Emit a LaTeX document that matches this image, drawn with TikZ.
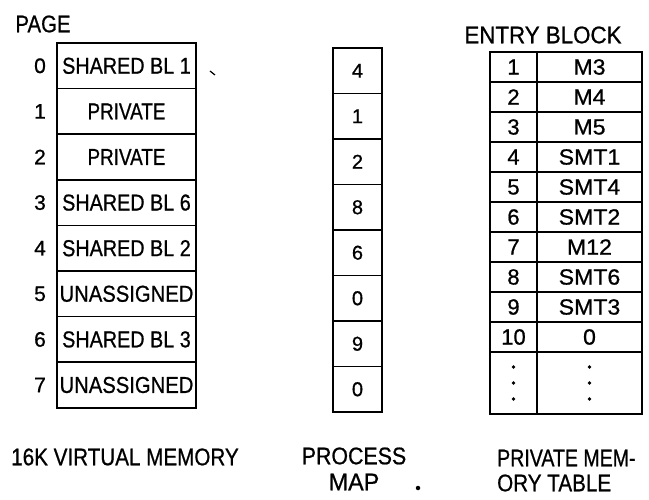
\documentclass[tikz,border=0pt]{standalone}
\usepackage{graphicx}
\usepackage{fontspec}
\setmainfont{Liberation Sans}[FakeBold=0.8]
\newcommand{\sx}[2]{\scalebox{#1}[1]{#2}}
\tikzset{
  x=1pt, y=-1pt,
  box/.style={draw, line width=1.6pt, inner sep=0pt, outer sep=0pt},
  lcell/.style={box, minimum width=139pt, minimum height=45.6pt, font=\fontsize{23}{23}\selectfont},
  pnum/.style={inner sep=0pt, font=\fontsize{21}{21}\selectfont},
  pcell/.style={box, minimum width=49pt, minimum height=45.5pt, font=\fontsize{20}{20}\selectfont},
  ecell/.style={box, minimum width=47pt, minimum height=30pt, font=\fontsize{22}{22}\selectfont},
  mcell/.style={box, minimum width=105pt, minimum height=30pt, font=\fontsize{22}{22}\selectfont},
  lbl/.style={inner sep=0pt, font=\fontsize{24}{24}\selectfont},
  dotmark/.style={circle, fill, inner sep=0pt, minimum size=3.6pt}
}
\begin{document}
\begin{tikzpicture}
\useasboundingbox (0,0) rectangle (649,500);
% --- 16K virtual memory ---
\node[lbl] (page) at (43,24) {\sx{0.85}{PAGE}};
\foreach \s/\t [count=\i from 0] in {0.86/SHARED BL 1, 0.82/PRIVATE, 0.82/PRIVATE, 0.86/SHARED BL 6, 0.86/SHARED BL 2, 0.88/UNASSIGNED, 0.86/SHARED BL 3, 0.88/UNASSIGNED}{
  \node[lcell] (v\i) at (126.5,{43+45.6*(\i+0.5)}) {\sx{\s}{\t}};
  \node[pnum] (n\i) at (40,{43+45.6*(\i+0.5)}) {\i};
}
\coordinate (tickA) at (210,71);
\coordinate (tickB) at (215,75);
\draw[line width=1.2pt] (tickA) -- (tickB);
\node[lbl] (vmlabel) at (125,457) {\sx{0.86}{16K VIRTUAL MEMORY}};
% --- process map ---
\foreach \t [count=\i from 0] in {4,1,2,8,6,0,9,0}{
  \node[pcell] (p\i) at (357.5,{48+45.5*(\i+0.5)}) {\t};
}
\node[lbl] (proc) at (354,456) {\sx{0.89}{PROCESS}};
\node[lbl] (map) at (354,482) {\sx{0.97}{MAP}};
\node[dotmark, minimum size=4.5pt] (mapdot) at (418,488) {};
% --- private memory table ---
\node[lbl] (entry) at (543,35) {\sx{0.93}{ENTRY BLOCK}};
\foreach \t [count=\i] in {M3,M4,M5,SMT1,SMT4,SMT2,M12,SMT6,SMT3,0}{
  \node[ecell] (e\i) at (513.5,{52+30*(\i-0.5)}) {\i};
  \node[mcell] (m\i) at (589.5,{52+30*(\i-0.5)}) {\sx{1.05}{\t}};
}
\node[ecell, minimum height=62pt] (edots) at (513.5,383) {};
\node[mcell, minimum height=62pt] (mdots) at (589.5,383) {};
\foreach \dy in {-16,0,16}{
  \node[dotmark] at ([yshift=\dy pt]edots.center) {};
  \node[dotmark] at ([yshift=\dy pt]mdots.center) {};
}
\node[lbl, anchor=west] (pmt1) at (497,458) {\sx{0.815}{PRIVATE MEM-}};
\node[lbl, anchor=west] (pmt2) at (497,483) {\sx{0.86}{ORY TABLE}};
\end{tikzpicture}
\end{document}
